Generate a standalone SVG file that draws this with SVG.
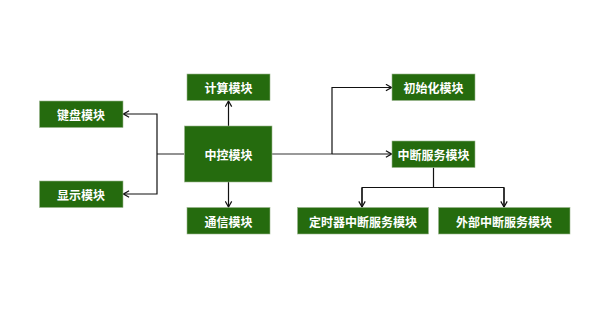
<svg xmlns="http://www.w3.org/2000/svg" width="600" height="321" viewBox="0 0 600 321">
<defs>
<style>
.n rect{fill:#256b0e;stroke:#9ab58e;stroke-width:0.6}
.n text{fill:#fff;font-family:"Noto Sans CJK SC","Noto Sans CJK JP",sans-serif;font-size:12px;font-weight:bold;text-anchor:middle;dominant-baseline:central}
.c path{fill:none;stroke:#111;stroke-width:1.2}
.c path.g{stroke:#777;stroke-width:1.6}
</style>
<marker id="a" viewBox="0 0 10 10" refX="9" refY="5" markerWidth="8" markerHeight="8" orient="auto" markerUnits="userSpaceOnUse">
<path d="M2,1 L9,5 L2,9" fill="none" stroke="#111" stroke-width="1.5"/>
</marker>
</defs>
<rect width="600" height="321" fill="#fff"/>
<g class="c">
<path class="g" d="M184,154 H157"/>
<path d="M157,154 V114 H123.5" marker-end="url(#a)"/>
<path d="M157,154 V194 H123.5" marker-end="url(#a)"/>
<path d="M228.5,126 V101" marker-end="url(#a)"/>
<path d="M228.5,182 V207" marker-end="url(#a)"/>
<path class="g" d="M272,154 H332"/>
<path d="M332,154 H391.5" marker-end="url(#a)"/>
<path d="M332,154 V87.5 H391.5" marker-end="url(#a)"/>
<path d="M433.5,167.5 V187.5"/>
<path d="M362,207 V187.5 H504 V207" />
<path d="M362,188 V207" marker-end="url(#a)"/>
<path d="M504,188 V207" marker-end="url(#a)"/>
</g>
<g id="jianpan" class="n"><rect x="39.5" y="101" width="83.5" height="26.5"/><text x="81" y="114">键盘模块</text></g>
<g id="xianshi" class="n"><rect x="39.5" y="181" width="83.5" height="26.5"/><text x="81" y="194">显示模块</text></g>
<g id="jisuan" class="n"><rect x="187" y="74" width="83" height="26.5"/><text x="228.5" y="87.5">计算模块</text></g>
<g id="zhongkong" class="n"><rect x="184.5" y="126" width="87.5" height="56"/><text x="228.5" y="154">中控模块</text></g>
<g id="tongxin" class="n"><rect x="187" y="207.5" width="83" height="26.5"/><text x="228.5" y="221">通信模块</text></g>
<g id="chushihua" class="n"><rect x="392" y="74" width="83" height="26.5"/><text x="433.5" y="87.5">初始化模块</text></g>
<g id="zhongduan" class="n"><rect x="392" y="141" width="83" height="26.5"/><text x="433.5" y="154">中断服务模块</text></g>
<g id="dingshiqi" class="n"><rect x="297.5" y="207.5" width="131" height="26.5"/><text x="363" y="221">定时器中断服务模块</text></g>
<g id="waibu" class="n"><rect x="438.5" y="207.5" width="131.5" height="26.5"/><text x="504" y="221">外部中断服务模块</text></g>
</svg>
